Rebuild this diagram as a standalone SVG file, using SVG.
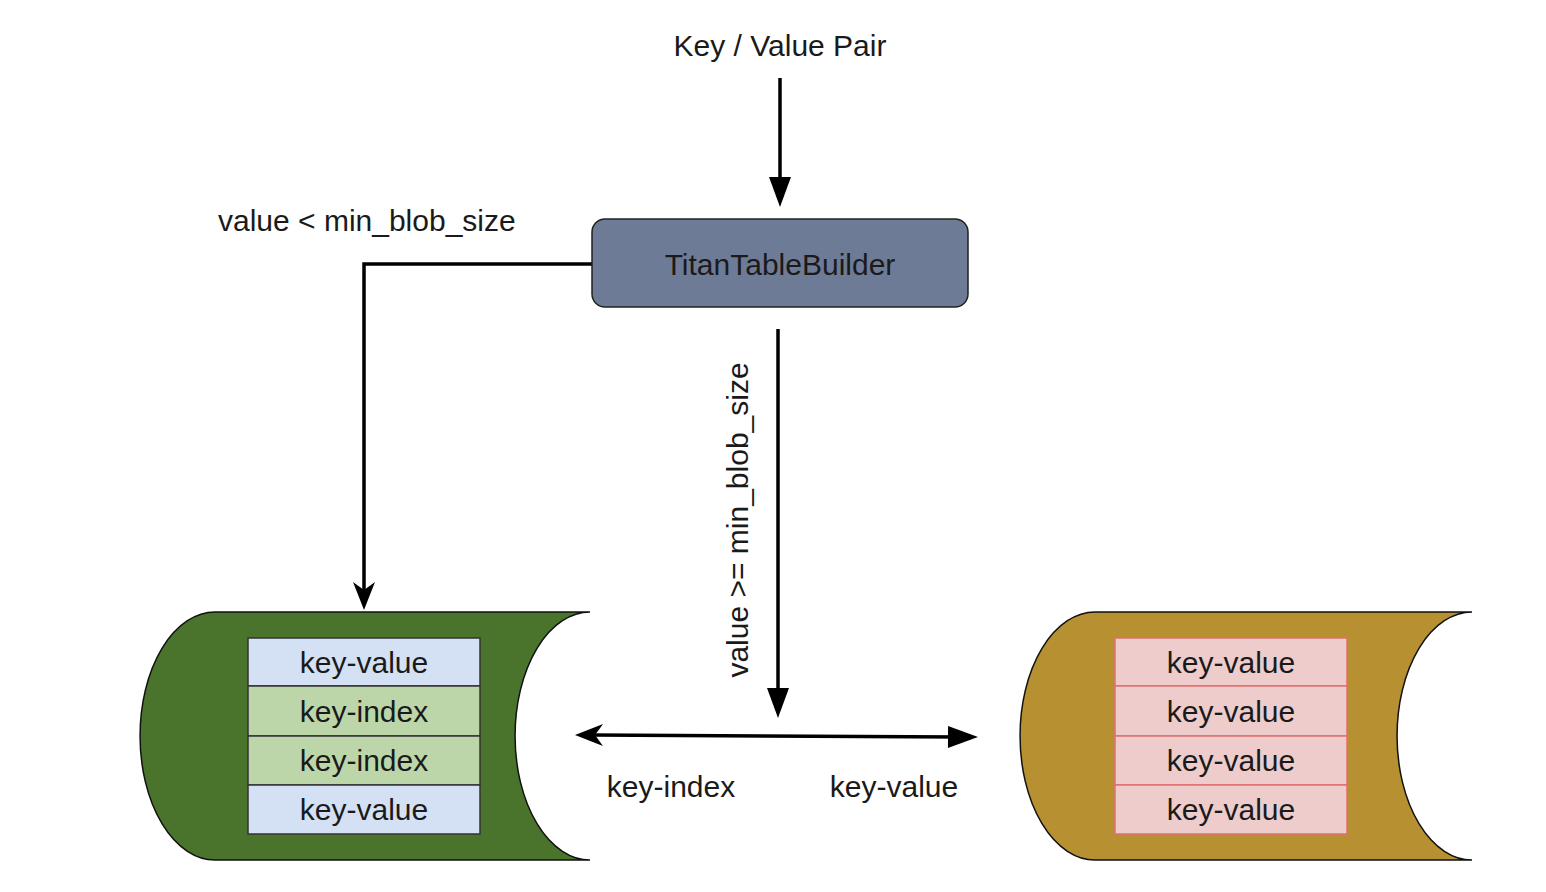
<svg xmlns="http://www.w3.org/2000/svg" width="1546" height="892" viewBox="0 0 1546 892">
<style>
text{font-family:"Liberation Sans",Arial,sans-serif;fill:#1a1a1a;}
.lbl{font-size:30px;}
.cell{font-size:30px;text-anchor:middle;}
.conn{fill:none;stroke:#000;stroke-width:3.5;}
.kv{fill:#d4e1f5;stroke:#333;stroke-width:1.5;}
.ki{fill:#bcd6a9;stroke:#333;stroke-width:1.5;}
.kr{fill:#eecccc;stroke:#e07070;stroke-width:1.5;}
.drum{stroke:#111;stroke-width:1.5;}
</style>
<defs>
<marker id="fill" markerUnits="userSpaceOnUse" markerWidth="32" markerHeight="24" refX="12" refY="12" orient="auto-start-reverse" overflow="visible">
<path d="M0,1 L30,12 L0,23 Z" fill="#000"/>
</marker>
<marker id="notch" markerUnits="userSpaceOnUse" markerWidth="32" markerHeight="24" refX="10" refY="12" orient="auto-start-reverse" overflow="visible">
<path d="M0,1 L28,12 L0,23 L8,12 Z" fill="#000"/>
</marker>
</defs>
<rect width="1546" height="892" fill="#fff"/>

<g id="connectors">
<line class="conn" x1="780" y1="78" x2="780" y2="189" marker-end="url(#fill)"/>
<path class="conn" d="M592 264 L364 264 L364 592" marker-end="url(#notch)"/>
<line class="conn" x1="778" y1="329" x2="778" y2="700" marker-end="url(#fill)"/>
<line class="conn" x1="593" y1="735" x2="960" y2="737" marker-start="url(#notch)" marker-end="url(#fill)"/>
<text class="lbl" x="218" y="231">value &lt; min_blob_size</text>
<text class="lbl" x="0" y="0" text-anchor="middle" transform="translate(748 520) rotate(-90)">value &gt;= min_blob_size</text>
<text class="lbl" x="671" y="797" text-anchor="middle">key-index</text>
<text class="lbl" x="894" y="797" text-anchor="middle">key-value</text>
</g>

<g id="input">
<text class="lbl" x="780" y="56" text-anchor="middle">Key / Value Pair</text>
</g>

<g id="builder">
<rect x="592" y="219" width="376" height="88" rx="13" fill="#6e7b96" stroke="#222" stroke-width="1.5"/>
<text class="lbl" x="780" y="275" text-anchor="middle">TitanTableBuilder</text>
</g>

<g id="sst">
<path class="drum" fill="#4a742c" d="M590 612 L215 612 A75 124 0 0 0 215 860 L590 860 A75 124 0 0 1 590 612 Z"/>
<rect class="kv" x="248" y="638" width="232" height="48"/>
<rect class="ki" x="248" y="686" width="232" height="50"/>
<rect class="ki" x="248" y="736" width="232" height="49"/>
<rect class="kv" x="248" y="785" width="232" height="49"/>
<text class="cell" x="364" y="673">key-value</text>
<text class="cell" x="364" y="722">key-index</text>
<text class="cell" x="364" y="771">key-index</text>
<text class="cell" x="364" y="820">key-value</text>
</g>

<g id="blob">
<path class="drum" fill="#b79131" d="M1472 612 L1095 612 A75 124 0 0 0 1095 860 L1472 860 A75 124 0 0 1 1472 612 Z"/>
<rect class="kr" x="1115" y="638" width="232" height="48"/>
<rect class="kr" x="1115" y="686" width="232" height="50"/>
<rect class="kr" x="1115" y="736" width="232" height="49"/>
<rect class="kr" x="1115" y="785" width="232" height="49"/>
<text class="cell" x="1231" y="673">key-value</text>
<text class="cell" x="1231" y="722">key-value</text>
<text class="cell" x="1231" y="771">key-value</text>
<text class="cell" x="1231" y="820">key-value</text>
</g>
</svg>
